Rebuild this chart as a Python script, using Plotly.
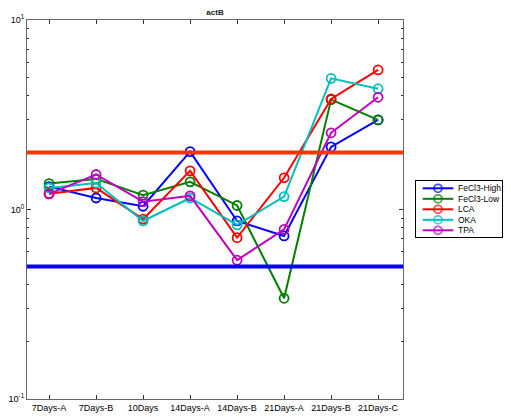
import plotly.graph_objects as go

categories = ["7Days-A", "7Days-B", "10Days", "14Days-A", "14Days-B", "21Days-A", "21Days-B", "21Days-C"]
fecl3_high = [1.32, 1.15, 1.04, 2.02, 0.87, 0.725, 2.14, 2.97]
fecl3_low = [1.37, 1.45, 1.19, 1.40, 1.05, 0.34, 3.80, 2.97]
lca = [1.21, 1.30, 0.89, 1.60, 0.71, 1.47, 3.83, 5.45]
oka = [1.30, 1.38, 0.87, 1.15, 0.83, 1.17, 4.92, 4.34]
tpa = [1.21, 1.53, 1.10, 1.18, 0.54, 0.785, 2.54, 3.91]
series_names = ["FeCl3-High", "FeCl3-Low", "LCA", "OKA", "TPA"]
series_colors = ["#0000FF", "#008000", "#FF0000", "#00BFBF", "#BF00BF"]
upper_threshold = 2.0
lower_threshold = 0.5
ytick_vals = [0.1, 1, 10]
ytick_text = ["10<sup>-1</sup>", "10<sup>0</sup>", "10<sup>1</sup>"]
minor_vals = [v * m for v in [0.1, 1] for m in range(2, 10)]

# page body has a default 8px margin, so the figure is shrunk by that much
OFF = 8
W, H = 511 - OFF, 417 - OFF
plot_left, plot_right, plot_top, plot_bottom = 27 - OFF, 403 - OFF, 20 - OFF, 399 - OFF
leg_left_px, leg_right_px = 416 - OFF, 502 - OFF
leg_top_px, leg_bot_px = 181 - OFF, 237 - OFF
ML, MR, MT, MB = plot_left, W - leg_right_px, plot_top, H - plot_bottom
plot_w = W - ML - MR
plot_h = H - MT - MB

fig = go.Figure()
all_series = [fecl3_high, fecl3_low, lca, oka, tpa]
for name, vals, col in zip(series_names, all_series, series_colors):
    fig.add_trace(go.Scatter(
        x=list(range(len(categories))), y=vals, name=name, mode="lines+markers",
        line=dict(color=col, width=2),
        marker=dict(symbol="circle-open", size=9, color=col, line=dict(width=1.8, color=col)),
        showlegend=False, xaxis="x", yaxis="y",
    ))

# compact legend drawn in its own small axes
leg_w = leg_right_px - leg_left_px
leg_h = leg_bot_px - leg_top_px
row_gap = (leg_h - 14) / (len(series_names) - 1)
for i, (name, col) in enumerate(zip(series_names, series_colors)):
    ry = 7.3 + i * row_gap
    fig.add_trace(go.Scatter(
        x=[6.7, 22, 37.3], y=[ry, ry, ry], mode="lines+markers",
        line=dict(color=col, width=2),
        marker=dict(symbol="circle-open", size=[0, 8, 0], color=col, line=dict(width=1.8, color=col)),
        showlegend=False, hoverinfo="skip", xaxis="x2", yaxis="y2",
    ))
    fig.add_annotation(x=39.5, y=ry, xref="x2", yref="y2", text=name, showarrow=False,
                       xanchor="left", yanchor="middle", font=dict(size=8.5, color="black"))

for thr, col in [(upper_threshold, "#FF3300"), (lower_threshold, "#0000FF")]:
    fig.add_shape(type="line", xref="x domain", yref="y", x0=0, x1=1, y0=thr, y1=thr,
                  line=dict(color=col, width=4), layer="above")

fig.update_layout(
    width=W, height=H,
    margin=dict(l=ML, r=MR, t=MT, b=MB, autoexpand=False),
    paper_bgcolor="white", plot_bgcolor="white",
    font=dict(family="Liberation Sans, Arial", size=9, color="black"),
    title=dict(text="<b>actB</b>", x=(plot_left + plot_right) / 2 / W, xanchor="center", xref="container",
               y=1 - 4.5 / H, yref="container", yanchor="middle", font=dict(size=8, color="#222")),
    showlegend=False,
    xaxis=dict(
        domain=[0, (plot_right - plot_left) / plot_w],
        range=[-0.47, 7.53], tickmode="array", tickvals=list(range(len(categories))), ticktext=categories,
        showgrid=False, zeroline=False, showline=True, linecolor="#666", linewidth=1, mirror="ticks",
        ticks="inside", ticklen=4, tickcolor="#333",
    ),
    yaxis=dict(
        type="log", range=[-1, 1], tickmode="array", tickvals=ytick_vals, ticktext=ytick_text,
        showgrid=False, zeroline=False, showline=True, linecolor="#666", linewidth=1, mirror="ticks",
        ticks="inside", ticklen=4, tickcolor="#333",
        minor=dict(tickmode="array", tickvals=minor_vals, ticks="inside", ticklen=2, tickcolor="#333", showgrid=False),
    ),
    xaxis2=dict(
        domain=[(leg_left_px - plot_left) / plot_w, 1.0], anchor="y2",
        range=[0, leg_w], showgrid=False, zeroline=False, showticklabels=False, ticks="",
        showline=True, linecolor="black", linewidth=1, mirror=True, fixedrange=True,
    ),
    yaxis2=dict(
        domain=[(plot_bottom - leg_bot_px) / plot_h, (plot_bottom - leg_top_px) / plot_h], anchor="x2",
        range=[leg_h, 0], showgrid=False, zeroline=False, showticklabels=False, ticks="",
        showline=True, linecolor="black", linewidth=1, mirror=True, fixedrange=True,
    ),
)

fig.write_html("out.html")
